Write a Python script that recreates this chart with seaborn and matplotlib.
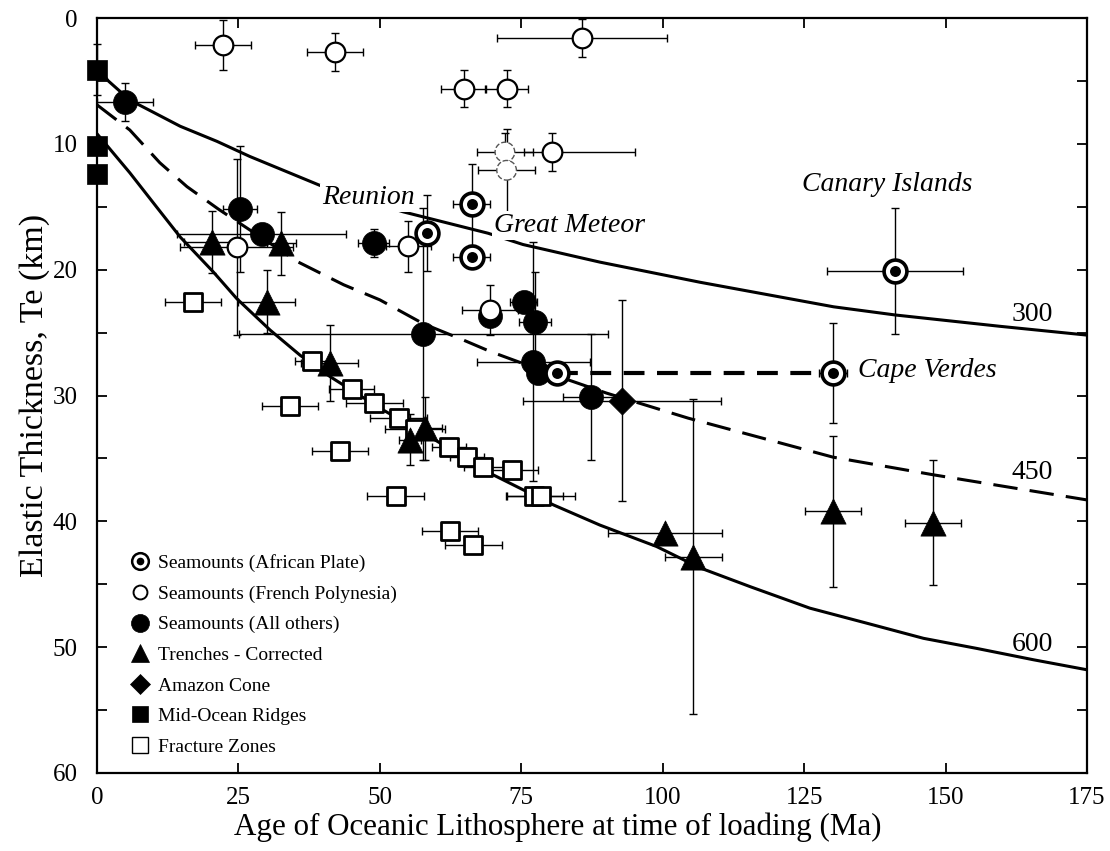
import numpy as np
import matplotlib
matplotlib.use("Agg")
import matplotlib.pyplot as plt
from matplotlib.lines import Line2D
from matplotlib.ticker import MultipleLocator
import seaborn as sns

# ---------------------------------------------------------------- data
# Seamounts on the African plate (ringed circles)
african_age = [58.3, 66.2, 66.2, 81.3, 130.1, 141.1]
african_te = [17.1, 14.8, 19.0, 28.2, 28.2, 20.1]
african_xerr = [1.5, 3.2, 3.2, 0.0, 2.5, 12.0]
african_yerr = [3.0, 3.2, 0.0, 0.0, 4.0, 5.0]
cape_verdes_pair = [3, 4]          # same volcano, two loading ages

# Seamounts in French Polynesia (open circles)
fp_age = [22.3, 42.1, 85.7, 64.8, 72.4, 80.4, 24.7, 55.0, 69.5]
fp_te = [2.15, 2.7, 1.6, 5.6, 5.6, 10.65, 18.2, 18.15, 23.2]
fp_xerr_lo = [5.0, 5.0, 15.0, 4.0, 3.8, 5.0, 10.0, 4.0, 5.0]
fp_xerr_hi = [5.0, 5.0, 15.0, 4.0, 3.8, 14.7, 10.0, 4.0, 5.0]
fp_yerr = [2.0, 1.5, 1.5, 1.5, 1.5, 1.5, 7.0, 2.0, 2.0]

# French Polynesia, poorly constrained estimates (dashed circles)
fpd_age = [72.1, 72.4]
fpd_te = [10.65, 12.1]
fpd_xerr = [5.0, 5.0]
fpd_yerr = [1.5, 3.3]

# All other seamounts (filled circles)
oth_age = [4.95, 25.3, 29.1, 48.9, 57.7, 69.5, 75.4, 77.4, 77.1, 78.0, 87.3]
oth_te = [6.67, 15.15, 17.15, 17.9, 25.1, 23.7, 22.55, 24.15, 27.3, 28.25, 30.15]
oth_xerr = [5.0, 3.0, 15.0, 2.7, 32.6, 0.0, 2.4, 2.8, 10.0, 0.0, 5.0]
oth_yerr = [1.5, 5.0, 0.0, 1.1, 10.0, 0.0, 0.0, 4.0, 9.5, 0.0, 5.0]

# Trenches, corrected (filled triangles)
tr_age = [20.3, 32.6, 30.0, 41.1, 55.3, 58.0, 100.4, 105.4, 130.1, 147.8]
tr_te = [17.8, 17.9, 22.55, 27.4, 33.5, 32.6, 40.9, 42.8, 39.2, 40.1]
tr_xerr = [5.0, 2.5, 5.0, 5.0, 2.0, 3.0, 10.0, 5.0, 5.0, 5.0]
tr_yerr = [2.5, 2.5, 2.5, 3.0, 2.0, 2.5, 0.0, 12.5, 6.0, 5.0]

# Amazon Cone (diamond)
amz_age = [92.8]
amz_te = [30.4]
amz_xerr = [17.5]
amz_yerr = [8.0]

# Mid-ocean ridges (filled squares at zero age)
mor_age = [0.0, 0.0, 0.0]
mor_te = [4.1, 10.2, 12.4]
mor_yerr = [2.0, 0.0, 0.0]

# Fracture zones (open squares)
fz_age = [17.0, 37.95, 34.1, 45.0, 49.0, 53.3, 56.2, 42.95, 62.2, 65.4,
          68.3, 73.3, 52.8, 77.3, 78.5, 62.4, 66.5]
fz_te = [22.55, 27.25, 30.8, 29.5, 30.6, 31.8, 32.7, 34.4, 34.1, 34.85,
         35.65, 35.9, 38.0, 38.0, 38.0, 40.8, 41.9]
fz_xerr = [5.0, 3.0, 5.0, 4.0, 5.0, 5.0, 5.3, 5.0, 3.0, 3.0,
           3.4, 4.7, 5.0, 5.0, 6.0, 5.0, 5.0]

# Depth of isotherms (deg C) from the cooling plate model
iso300_age = [0, 2, 5, 7, 10, 14.7, 21.2, 27, 39.4, 54.1, 69.1, 75.3,
              88.9, 106.6, 130.2, 141.1, 159.6, 175]
iso300_te = [3.9, 5.0, 6.2, 6.8, 7.5, 8.6, 9.8, 11.0, 13.3, 15.4, 17.1, 18.0,
             19.4, 21.0, 22.95, 23.6, 24.5, 25.2]
iso450_age = [0, 5.8, 11.1, 15.9, 21.5, 35.6, 43.6, 50, 57.7, 64.8, 69.5,
              81, 90, 104.5, 130.1, 147.8, 175]
iso450_te = [6.9, 8.9, 11.5, 13.4, 15.2, 19.4, 21.2, 22.4, 24.3, 25.6, 26.5,
             28.4, 29.8, 31.8, 34.9, 36.3, 38.3]
iso600_age = [0, 1.7, 5.8, 10.5, 14.7, 20.6, 24.7, 30.6, 35.9, 41.2, 50, 60,
              70, 80.7, 88.9, 98.9, 106.6, 115.5, 126, 136.1, 146.1, 155.5,
              165.5, 175]
iso600_te = [9.2, 10.1, 12.3, 15.0, 17.4, 20.2, 22.3, 24.8, 26.8, 28.5, 31.0,
             33.6, 36.3, 38.7, 40.3, 42.0, 43.7, 45.2, 46.9, 48.1, 49.3, 50.1,
             51.0, 51.8]
iso_labels = ["300", "450", "600"]

legend_labels = ["Seamounts (African Plate)", "Seamounts (French Polynesia)",
                 "Seamounts (All others)", "Trenches - Corrected",
                 "Amazon Cone", "Mid-Ocean Ridges", "Fracture Zones"]

# ---------------------------------------------------------------- style
sns.set_theme(style="ticks")
plt.rcParams["font.family"] = ["Liberation Serif", "DejaVu Serif"]
plt.rcParams["axes.linewidth"] = 1.5
plt.rcParams["axes.edgecolor"] = "black"
plt.rcParams["text.color"] = "black"
plt.rcParams["axes.labelcolor"] = "black"
plt.rcParams["xtick.color"] = "black"
plt.rcParams["ytick.color"] = "black"

fig = plt.figure(figsize=(11.10, 8.51), dpi=100)
ax = fig.add_axes([0.0874, 0.0917, 0.8919, 0.8871])

BLACK = "black"
ERR = dict(fmt="none", ecolor=BLACK, elinewidth=1.0, capsize=2.8,
           capthick=1.0, zorder=2)

# ---------------------------------------------------------------- isotherms
sns.lineplot(x=iso300_age, y=iso300_te, ax=ax, color=BLACK, lw=2.2,
             sort=False, estimator=None, zorder=1)
sns.lineplot(x=iso450_age, y=iso450_te, ax=ax, color=BLACK, lw=2.2,
             linestyle=(0, (8, 4)), sort=False, estimator=None, zorder=1)
sns.lineplot(x=iso600_age, y=iso600_te, ax=ax, color=BLACK, lw=2.2,
             sort=False, estimator=None, zorder=1)

# Cape Verdes: link between the two loading ages
cv_age = [african_age[i] for i in cape_verdes_pair]
cv_te = [african_te[i] for i in cape_verdes_pair]
sns.lineplot(x=cv_age, y=cv_te, ax=ax, color=BLACK, lw=3.0,
             linestyle=(0, (5, 3)), sort=False, estimator=None, zorder=1)

# ---------------------------------------------------------------- error bars
ax.errorbar(fz_age, fz_te, xerr=fz_xerr, **ERR)
ax.errorbar(tr_age, tr_te, xerr=tr_xerr, yerr=tr_yerr, **ERR)
ax.errorbar(oth_age, oth_te, xerr=oth_xerr, yerr=oth_yerr, **ERR)
ax.errorbar(fp_age, fp_te, xerr=[fp_xerr_lo, fp_xerr_hi], yerr=fp_yerr, **ERR)
ax.errorbar(fpd_age, fpd_te, xerr=fpd_xerr, yerr=fpd_yerr, **ERR)
ax.errorbar(amz_age, amz_te, xerr=amz_xerr, yerr=amz_yerr, **ERR)
ax.errorbar(african_age, african_te, xerr=african_xerr, yerr=african_yerr, **ERR)
ax.errorbar(mor_age, mor_te, yerr=mor_yerr, clip_on=False, **ERR)

# ---------------------------------------------------------------- markers
sns.scatterplot(x=fz_age, y=fz_te, ax=ax, marker="s", s=160, color="white",
                edgecolor=BLACK, linewidth=2.0, zorder=4, legend=False)
sns.scatterplot(x=tr_age, y=tr_te, ax=ax, marker="^", s=330, color=BLACK,
                edgecolor=BLACK, linewidth=0.5, zorder=5, legend=False)
sns.scatterplot(x=oth_age, y=oth_te, ax=ax, marker="o", s=300, color=BLACK,
                edgecolor=BLACK, linewidth=0.5, zorder=5, legend=False)
sns.scatterplot(x=fp_age, y=fp_te, ax=ax, marker="o", s=200, color="white",
                edgecolor=BLACK, linewidth=1.6, zorder=6, legend=False)
sns.scatterplot(x=fpd_age, y=fpd_te, ax=ax, marker="o", s=200, color="white",
                edgecolor="#555555", linewidth=1.0, linestyle="--", zorder=6,
                legend=False)
sns.scatterplot(x=amz_age, y=amz_te, ax=ax, marker="D", s=190, color=BLACK,
                edgecolor=BLACK, linewidth=0.5, zorder=5, legend=False)
sns.scatterplot(x=mor_age, y=mor_te, ax=ax, marker="s", s=210, color=BLACK,
                edgecolor=BLACK, linewidth=0.5, zorder=7, clip_on=False,
                legend=False)
sns.scatterplot(x=african_age, y=african_te, ax=ax, marker="o", s=270,
                color="white", edgecolor=BLACK, linewidth=2.6, zorder=7,
                legend=False)
sns.scatterplot(x=african_age, y=african_te, ax=ax, marker="o", s=62,
                color=BLACK, edgecolor=BLACK, linewidth=0, zorder=8,
                legend=False)

# ---------------------------------------------------------------- labels
ital = dict(fontsize=20, style="italic", ha="center", va="center", zorder=9)
white_box = dict(facecolor="white", edgecolor="none", pad=1.5)
ax.text(47.9, 14.3, "Reunion", bbox=white_box, **ital)
ax.text(83.5, 16.5, "Great Meteor", bbox=white_box, **ital)
ax.text(139.6, 13.2, "Canary Islands", **ital)
ax.text(134.6, 28.0, "Cape Verdes", fontsize=20, style="italic",
        ha="left", va="center", zorder=9)

for lab, (xl, yl) in zip(iso_labels, [(165.3, 23.6), (165.3, 36.1), (165.3, 49.8)]):
    ax.text(xl, yl, lab, fontsize=20, ha="center", va="center", zorder=9)

# ---------------------------------------------------------------- axes
ax.set_xlim(0, 175)
ax.set_ylim(60, 0)
ax.xaxis.set_major_locator(MultipleLocator(25))
ax.yaxis.set_major_locator(MultipleLocator(10))
ax.yaxis.set_minor_locator(MultipleLocator(5))
ax.tick_params(axis="both", which="both", direction="in", top=True,
               right=True, width=1.3, length=7)
ax.tick_params(axis="x", which="major", labelsize=18, pad=10)
ax.tick_params(axis="y", which="major", labelsize=18, pad=14)
ax.set_xlabel("Age of Oceanic Lithosphere at time of loading (Ma)",
              fontsize=22.3)
ax.xaxis.set_label_coords(0.465, -0.052)
ax.set_ylabel("Elastic Thickness, Te (km)", fontsize=24.5, labelpad=2)
for sp in ax.spines.values():
    sp.set_linewidth(1.6)
    sp.set_visible(True)

# ---------------------------------------------------------------- legend
def mk(marker, size, face, lw=0.5):
    return Line2D([], [], linestyle="none", marker=marker, markersize=size,
                  markerfacecolor=face, markeredgecolor=BLACK,
                  markeredgewidth=lw)

handles = [
    (mk("o", 12, "white", 1.8), mk("o", 5.5, BLACK, 0)),
    mk("o", 10, "white", 1.4),
    mk("o", 13, BLACK),
    mk("^", 13, BLACK),
    mk("D", 10, BLACK),
    mk("s", 12, BLACK),
    mk("s", 11, "white", 1.0),
]
ax.legend(handles, legend_labels, loc="upper left",
          bbox_to_anchor=(0.034, 0.29), frameon=False, fontsize=14,
          handlelength=1.0, handletextpad=0.4, labelspacing=0.67,
          borderpad=0.0, borderaxespad=0.0)

fig.savefig("out.png", dpi=100)
